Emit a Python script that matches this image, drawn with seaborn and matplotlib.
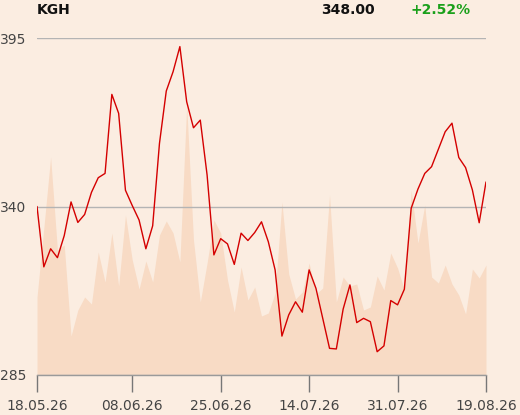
import numpy as np
import pandas as pd
import matplotlib
matplotlib.use("Agg")
import matplotlib.pyplot as plt
import seaborn as sns

ticker = "KGH"
last_price = "348.00"
change = "+2.52%"

# closing prices, one per trading day (18.05.26 - 19.08.26)
close = [340.0, 320.3, 326.2, 323.3, 330.5, 341.5, 334.8, 337.4, 344.6, 349.4,
         350.8, 376.6, 370.4, 345.3, 340.3, 335.6, 326.2, 333.7, 360.6, 377.7,
         384.0, 392.2, 374.2, 365.7, 368.2, 350.3, 324.2, 329.5, 327.8, 321.1,
         331.3, 328.9, 331.5, 335.0, 328.5, 319.3, 297.7, 304.6, 308.9, 305.5,
         319.3, 313.3, 303.5, 293.7, 293.5, 306.5, 314.4, 302.1, 303.5, 302.4,
         292.6, 294.5, 309.3, 307.9, 313.0, 339.4, 345.7, 350.8, 353.0, 358.7,
         364.4, 367.2, 356.0, 352.7, 345.4, 334.7, 348.0]

# traded volume (thousand shares), drawn as background area
volume = [312, 588, 872, 500, 520, 156, 260, 312, 284, 492,
          372, 568, 356, 640, 460, 344, 456, 372, 560, 616,
          568, 452, 1080, 540, 292, 448, 620, 568, 380, 252,
          432, 300, 352, 236, 248, 328, 692, 404, 304, 332,
          448, 324, 348, 720, 292, 392, 356, 364, 260, 272,
          396, 340, 488, 428, 340, 740, 528, 680, 392, 368,
          440, 364, 320, 244, 424, 388, 440]

tick_idx = [0, 14, 27, 40, 53, 66]
tick_labels = ["18.05.26", "08.06.26", "25.06.26", "14.07.26", "31.07.26", "19.08.26"]

df = pd.DataFrame({"day": np.arange(len(close)), "close": close, "volume": volume})

bg = "#fbede1"
sns.set_theme(style="white")
plt.rcParams["font.family"] = ["DejaVu Sans"]

fig = plt.figure(figsize=(5.2, 4.15), dpi=100)
fig.patch.set_facecolor(bg)
ax = fig.add_axes([0.0712, 0.0964, 0.8634, 0.812])
ax_vol = ax.twinx()

# volume area behind the price line
ax_vol.fill_between(df["day"], df["volume"], 0, color="#f8dbc5", linewidth=0)
ax_vol.set_ylim(0, 1348)
ax_vol.set_yticks([])
for s in ax_vol.spines.values():
    s.set_visible(False)

ax.set_zorder(ax_vol.get_zorder() + 1)
ax.patch.set_visible(False)
sns.lineplot(data=df, x="day", y="close", ax=ax, color="#d40000", linewidth=1.0)

ax.set_xlim(0, len(close) - 1)
ax.set_ylim(285, 395)
ax.set_yticks([285, 340, 395])
ax.yaxis.grid(True, color="#b4b4b4", linewidth=1.0)
ax.xaxis.grid(False)
ax.set_xticks(tick_idx)
ax.set_xticklabels(tick_labels)
ax.set_xlabel("")
ax.set_ylabel("")
ax.tick_params(axis="x", length=12, width=1, color="#777777", colors="#444444",
               labelsize=10, pad=5, direction="out", bottom=True)
ax.tick_params(axis="y", length=0, colors="#444444", labelsize=10, pad=8)
for name in ["top", "right", "left"]:
    ax.spines[name].set_visible(False)
ax.spines["bottom"].set_color("#9a9a9a")
ax.spines["bottom"].set_linewidth(1.0)

fig.text(37 / 520, 1 - 3 / 415, ticker, fontsize=10, fontweight="bold",
         color="#111111", va="top", ha="left")
fig.text(375 / 520, 1 - 3 / 415, last_price, fontsize=10, fontweight="bold",
         color="#111111", va="top", ha="right")
fig.text(411 / 520, 1 - 3 / 415, change, fontsize=10, fontweight="bold",
         color="#1aa01a", va="top", ha="left")

fig.savefig("out.png", dpi=100, facecolor=bg)
